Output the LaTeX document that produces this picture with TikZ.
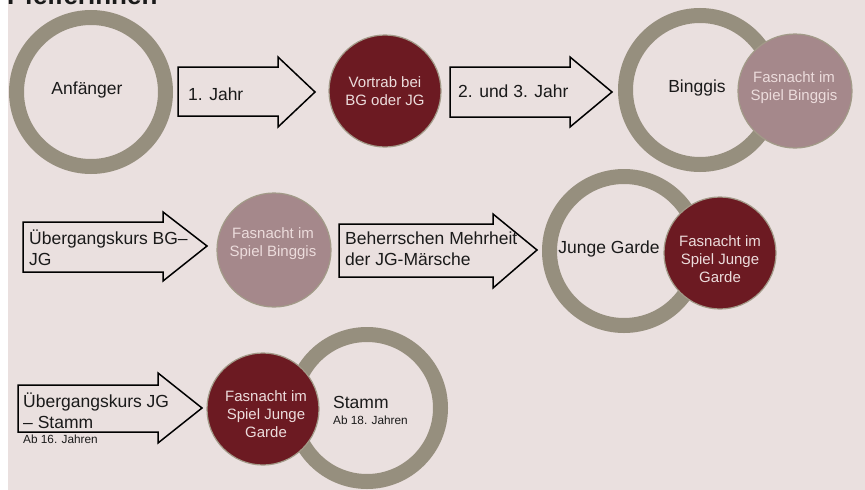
\documentclass[tikz,border=0pt]{standalone}
\usepackage{fontspec}
\setmainfont{Liberation Sans}
\definecolor{bgpink}{HTML}{EAE0DF}
\definecolor{ringgray}{HTML}{968F7E}
\definecolor{darkred}{HTML}{6C1A22}
\definecolor{mauve}{HTML}{A5888B}
\definecolor{rimgray}{HTML}{A29A88}
\definecolor{lighttxt}{HTML}{ECDCDC}
\definecolor{inktxt}{HTML}{1A1A1A}
\tikzset{
  ring/.style={draw=ringgray, line width=15pt},
  redball/.style={circle, fill=darkred, draw=rimgray, line width=1.2pt, inner sep=0pt},
  mauveball/.style={circle, fill=mauve, draw=rimgray, line width=1.2pt, inner sep=0pt},
  balltext/.style={text=lighttxt, align=center, inner sep=0pt, font=\fontsize{15}{18}\selectfont},
  bigtext/.style={text=inktxt, inner sep=0pt, font=\fontsize{17.5}{21}\selectfont},
  smalltext/.style={text=inktxt, inner sep=0pt, font=\fontsize{11.8}{13}\selectfont},
  blockarrow/.style={draw=black, line width=1.5pt, line join=miter},
}
\begin{document}
\begin{tikzpicture}[x=1pt,y=-1pt]
\useasboundingbox (0,0) rectangle (865,490);
\fill[white] (0,0) rectangle (865,490);
\fill[bgpink] (8,0) rectangle (865,490);
% title (cut at the top, as in the reference)
\node[anchor=base west, inner sep=0pt, font=\fontsize{26}{28}\selectfont\bfseries, text=inktxt] (title) at (7,4) {Pfeiferinnen};

% ---------- rings ----------
\draw[ring] (91,92) circle[radius=74.5];
\draw[ring] (700,90) circle[radius=74.5];
\draw[ring] (624,251) circle[radius=74.5];
\draw[ring] (367,408) circle[radius=73.5];
\coordinate (anf) at (91,92);
\coordinate (bing) at (700,90);
\coordinate (jg) at (624,251);
\coordinate (stamm) at (367,408);

% ---------- filled circles ----------
\node[redball, minimum size=112pt] (vortrab) at (385,91) {};
\node[mauveball, minimum size=114pt] (fsb1) at (795,91) {};
\node[mauveball, minimum size=114pt] (fsb2) at (274,250) {};
\node[redball, minimum size=112pt] (fsjg1) at (720,253) {};
\node[redball, minimum size=112pt] (fsjg2) at (263,409) {};

% ---------- block arrows ----------
\draw[blockarrow] (178,67) -- (278,67) -- (278,57) -- (315,92) -- (278,127) -- (278,116) -- (178,116) -- cycle;
\draw[blockarrow] (450,67) -- (570,67) -- (570,57) -- (612,92) -- (570,127) -- (570,117) -- (450,117) -- cycle;
\draw[blockarrow] (23,222) -- (163,222) -- (163,212) -- (207,246) -- (163,281) -- (163,272) -- (23,272) -- cycle;
\draw[blockarrow] (339,224) -- (493,224) -- (493,214) -- (537,250) -- (493,288) -- (493,277) -- (339,277) -- cycle;
\draw[blockarrow] (18,385) -- (158,385) -- (158,373) -- (202,408) -- (158,443) -- (158,432) -- (18,432) -- cycle;

% ---------- texts ----------
\node[bigtext] (tanf) at (87,90) {Anfänger};
\node[bigtext, anchor=west] (t1) at (188,94) {1. Jahr};
\node[balltext] (tvortrab) at (385,91) {Vortrab bei\\BG oder JG};
\node[bigtext, anchor=west] (t23) at (458,91) {2. und 3. Jahr};
\node[bigtext] (tbing) at (697,88) {Binggis};
\node[balltext] (tfsb1) at (794,88) {Fasnacht im\\Spiel Binggis};

\node[bigtext, anchor=west, align=left] (tubg) at (29,248) {Übergangskurs BG–\\JG};
\node[balltext] (tfsb2) at (273,244) {Fasnacht im\\Spiel Binggis};
\node[bigtext, anchor=west, align=left] (tbeh) at (345,249) {Beherrschen Mehrheit\\der JG-Märsche};
\node[bigtext] (tjg) at (609,249) {Junge Garde};
\node[balltext] (tfsjg1) at (720,259) {Fasnacht im\\Spiel Junge\\Garde};

\node[bigtext, anchor=west, align=left] (tujg) at (23,411) {Übergangskurs JG\\– Stamm};
\node[smalltext, anchor=west] (t16) at (23,439) {Ab 16. Jahren};
\node[balltext] (tfsjg2) at (266,414) {Fasnacht im\\Spiel Junge\\Garde};
\node[bigtext, anchor=west] (tst) at (333,402) {Stamm};
\node[smalltext, anchor=west] (t18) at (333,420) {Ab 18. Jahren};
\end{tikzpicture}
\end{document}
